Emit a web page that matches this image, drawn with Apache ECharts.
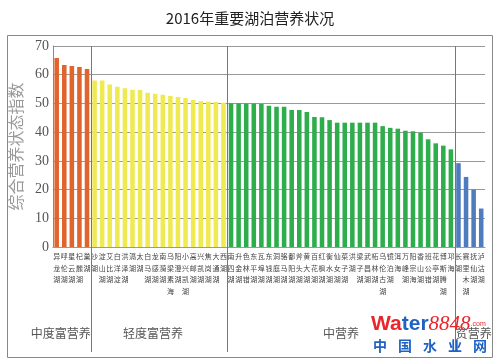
<!DOCTYPE html>
<html><head><meta charset="utf-8">
<script src="https://cdn.jsdelivr.net/npm/echarts@6/dist/echarts.min.js"></script>
<style>html,body{margin:0;padding:0;background:#fff}#c{width:500px;height:362px}</style>
</head><body><div id="c"></div>
<script>
// ---- data ----
const chartTitle = '2016年重要湖泊营养状况';
const yAxisName = '综合营养状态指数';
const groupNames = ['中度富营养', '轻度富营养', '中营养', '贫营养'];

const lakesModerate = ['异龙湖', '呼伦湖', '星云湖', '杞麓湖', '巢湖'];
const valuesModerate = [65.8, 63.4, 63.0, 62.7, 62.0];

const lakesLight = ['沙湖', '淀山湖', '艾比湖', '白洋淀', '洪泽湖', '滆湖', '太湖', '白马湖', '龙感湖',
  '南漪湖', '乌梁素海', '阳澄湖', '小兴凯湖', '高邮湖', '兴凯湖', '焦岗湖', '大通湖', '西湖'];
const valuesLight = [58.0, 58.0, 56.6, 55.8, 55.3, 54.8, 54.7, 53.7, 53.4,
  53.0, 52.6, 52.2, 51.9, 51.2, 50.8, 50.6, 50.5, 50.2];

const lakesMeso = ['南四湖', '升金湖', '色林错', '东平湖', '瓦埠湖', '东钱湖', '洞庭湖', '骆马湖', '鄱阳湖',
  '斧头湖', '黄大湖', '百花湖', '红枫湖', '衡水湖', '仙女湖', '菜子湖', '洪湖', '梁子湖', '武昌湖',
  '柘林湖', '乌伦古湖', '镜泊湖', '洱海', '万峰湖', '阳宗海', '香山湖', '班公错', '花亭湖', '博斯腾湖', '邛海'];
const valuesMeso = [50.1, 50.1, 50.0, 50.0, 49.8, 49.2, 48.8, 48.8, 47.7,
  47.7, 47.0, 45.3, 45.2, 44.2, 43.3, 43.3, 43.3, 43.3, 43.3,
  43.3, 42.1, 41.5, 41.2, 40.5, 40.3, 39.8, 37.5, 36.1, 35.3, 34.0];

const lakesOligo = ['长湖', '赛里木湖', '抚仙湖', '泸沽湖'];
const valuesOligo = [29.2, 24.4, 20.0, 13.4];

const yTicks = [0, 10, 20, 30, 40, 50, 60, 70];

// ---- build ----
const groupLakes = [lakesModerate, lakesLight, lakesMeso, lakesOligo];
const groupValues = [valuesModerate, valuesLight, valuesMeso, valuesOligo];
const groupColors = ['#E0642C', '#EFEA52', '#2EAD4C', '#4F7CBC'];
const categories = [].concat(...groupLakes);
const starts = [];
let acc = 0;
groupLakes.forEach(g => { starts.push(acc); acc += g.length; });

const series = groupLakes.map((g, gi) => {
  const data = categories.map(() => '-');
  groupValues[gi].forEach((v, k) => { data[starts[gi] + k] = v; });
  return {
    name: groupNames[gi], type: 'bar', stack: 'all', data: data,
    barWidth: '60%', itemStyle: { color: groupColors[gi] }, silent: true
  };
});

const chart = echarts.init(document.getElementById('c'), null, { renderer: 'canvas' });
chart.setOption({
  animation: false,
  backgroundColor: '#fff',
  title: {
    text: chartTitle, left: 'center', top: 6,
    textStyle: { fontFamily: 'Noto Sans CJK SC', fontSize: 15, fontWeight: 'normal', color: '#222' }
  },
  grid: { left: 48, right: 15, top: 46, bottom: 115, containLabel: false },
  xAxis: {
    type: 'category', data: categories,
    axisLine: { show: true, lineStyle: { color: '#999', width: 1 } },
    axisTick: { show: false },
    axisLabel: {
      interval: 0, fontSize: 7, lineHeight: 11.5, color: '#444', margin: 4,
      fontFamily: 'Noto Sans CJK SC', verticalAlign: 'top',
      formatter: v => v.split('').join('\n')
    }
  },
  yAxis: {
    type: 'value', min: yTicks[0], max: yTicks[yTicks.length - 1], interval: 10,
    name: yAxisName, nameLocation: 'middle', nameRotate: 90, nameGap: 13,
    nameTextStyle: { fontFamily: 'Noto Sans CJK SC', fontSize: 16, color: '#999' },
    axisLine: { show: true, lineStyle: { color: '#888' } },
    axisTick: { show: false },
    axisLabel: { fontFamily: 'Liberation Serif', fontSize: 14, color: '#555', margin: 4 },
    splitLine: { lineStyle: { color: '#999', width: 1 } }
  },
  series: series
});

// ---- decorations from axis positions ----
const px = i => chart.convertToPixel({ xAxisIndex: 0 }, i);
const topY = chart.convertToPixel({ yAxisIndex: 0 }, yTicks[yTicks.length - 1]);
const step = px(1) - px(0);
const graphics = [];
graphics.push({
  type: 'rect', shape: { x: 7.5, y: 35.5, width: 485, height: 322 },
  style: { fill: null, stroke: '#888', lineWidth: 1 }, silent: true, z: 0
});
const labelOffsets = [-11, -6, 0, 4];
groupLakes.forEach((g, gi) => {
  const left = px(starts[gi]) - step / 2;
  const right = px(starts[gi] + g.length - 1) + step / 2;
  if (gi > 0) {
    graphics.push({
      type: 'line', shape: { x1: Math.round(left) + 0.5, y1: topY, x2: Math.round(left) + 0.5, y2: 352 },
      style: { stroke: '#777', lineWidth: 1 }, silent: true, z: 10
    });
  }
  graphics.push({
    type: 'text', x: (left + right) / 2 + labelOffsets[gi], y: 333,
    style: {
      text: groupNames[gi], fontFamily: 'Noto Sans CJK SC', fontSize: 12, fill: '#555',
      textAlign: 'center', textVerticalAlign: 'middle'
    }, silent: true, z: 10
  });
});
// watermark
graphics.push({
  type: 'text', x: 371, y: 324, z: 20, silent: true,
  style: {
    text: '{r|Wa}{b|ter}{n|8848}{c|.com}', textVerticalAlign: 'middle',
    rich: {
      r: { fontFamily: 'Liberation Sans', fontWeight: 'bold', fontSize: 21, fill: '#E8262B' },
      b: { fontFamily: 'Liberation Sans', fontWeight: 'bold', fontSize: 21, fill: '#1F62C4' },
      n: { fontFamily: 'Liberation Serif', fontStyle: 'italic', fontSize: 21, fill: '#E8262B' },
      c: { fontFamily: 'Liberation Sans', fontSize: 7, fill: '#E8262B' }
    }
  }
});
'中国水业网'.split('').forEach((ch, i) => {
  graphics.push({
    type: 'text', x: 380 + i * 25, y: 346, z: 20, silent: true,
    style: {
      text: ch, fontFamily: 'Noto Sans CJK SC', fontWeight: 'bold', fontSize: 14, fill: '#1F62C4',
      textAlign: 'center', textVerticalAlign: 'middle'
    }
  });
});
chart.setOption({ graphic: graphics });
</script>
</body></html>
